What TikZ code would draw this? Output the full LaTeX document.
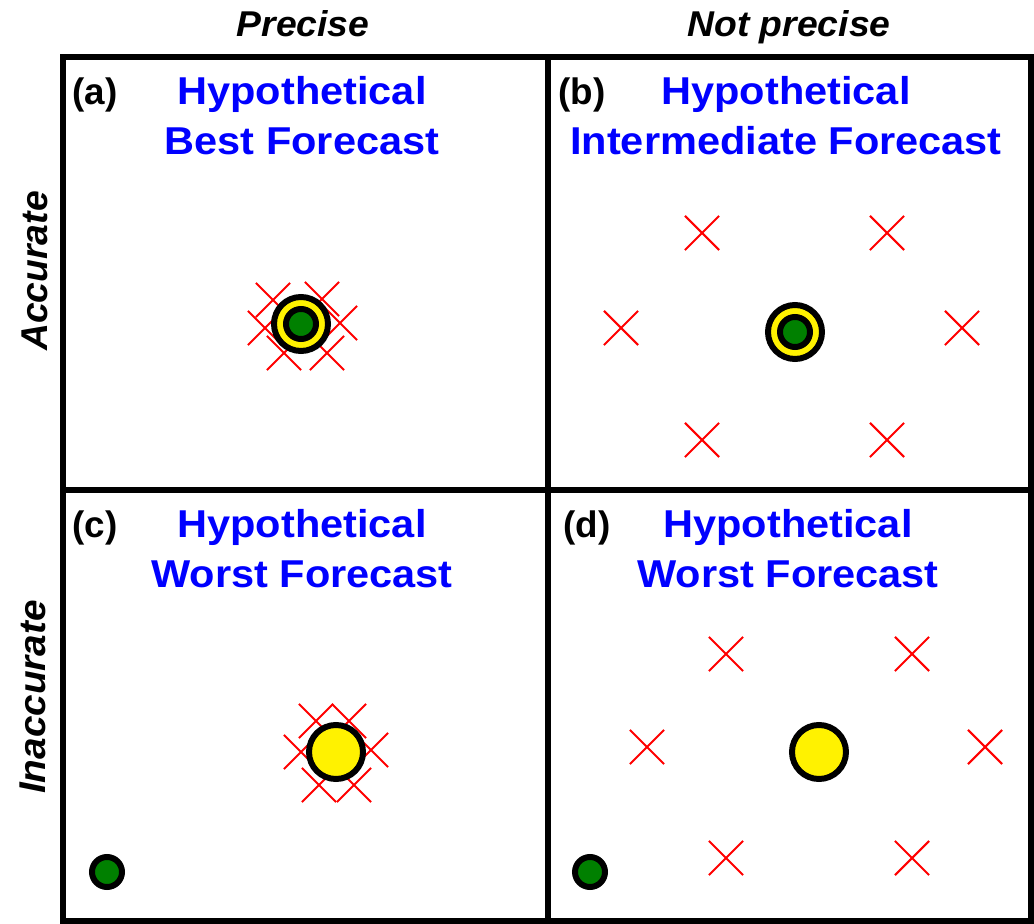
\documentclass[tikz,border=0pt]{standalone}
\usepackage{fontspec}
\setmainfont{Liberation Sans}
\usetikzlibrary{shapes.misc}
\definecolor{obsgreen}{RGB}{0,128,0}

\begin{document}
\begin{tikzpicture}[x=0.025cm, y=-0.025cm,
    paneltitle/.style={text=blue, font=\fontsize{27.6}{33}\selectfont\bfseries, xscale=1.07, anchor=base, inner sep=0pt},
    panellabel/.style={font=\fontsize{26.2}{31}\selectfont\bfseries, anchor=base west, inner sep=0pt},
    axislabel/.style={font=\fontsize{25.5}{30}\selectfont\bfseries\itshape, xscale=1.04, inner sep=0pt},
    fcross/.style={cross out, draw=red, line width=1.5pt, minimum size=0.8cm, inner sep=0pt},
    fcst/.style={circle, draw=black, line width=4.25pt, fill=yellow, minimum size=1.35cm, inner sep=0pt},
    obs/.style={circle, draw=black, line width=4.25pt, fill=obsgreen, minimum size=0.75cm, inner sep=0pt}]
\useasboundingbox (0,0) rectangle (1034,924);

% frame
\draw[line width=4.25pt] (63,57) rectangle (1031,921);
\draw[line width=4.25pt] (548,57) -- (548,921);
\draw[line width=4.25pt] (63,490) -- (1031,490);

% column and row headings
\node[axislabel, anchor=base] (prec) at (303,37) {Precise};
\node[axislabel, anchor=base] (nprec) at (789,37) {Not precise};
\node[axislabel, rotate=90, xscale=1.04] (acc) at (35,271) {Accurate};
\node[axislabel, rotate=90, xscale=1.08] (inacc) at (33,697) {Inaccurate};

% (a)
\node[panellabel] (la) at (72,105) {(a)};
\node[paneltitle] (ta1) at (302,105) {Hypothetical};
\node[paneltitle] (ta2) at (302,155) {Best Forecast};
\node[fcross] (xa1) at (273,300) {}; \node[fcross] (xa2) at (322,299) {};
\node[fcross] (xa3) at (265,328) {}; \node[fcross] (xa4) at (340,323) {};
\node[fcross] (xa5) at (284,353) {}; \node[fcross] (xa6) at (327,353) {};
\node[fcst] (fa) at (301,324) {};
\node[obs] (oa) at (301,324) {};

% (b)
\node[panellabel] (lb) at (558,105) {(b)};
\node[paneltitle] (tb1) at (786,105) {Hypothetical};
\node[paneltitle] (tb2) at (786,155) {Intermediate Forecast};
\node[fcross] (xb1) at (702,233) {}; \node[fcross] (xb2) at (887,233) {};
\node[fcross] (xb3) at (621,328) {}; \node[fcross] (xb4) at (962,328) {};
\node[fcross] (xb5) at (702,440) {}; \node[fcross] (xb6) at (887,440) {};
\node[fcst] (fb) at (795,332) {};
\node[obs] (ob) at (795,332) {};

% (c)
\node[panellabel] (lc) at (72,538) {(c)};
\node[paneltitle] (tc1) at (302,538) {Hypothetical};
\node[paneltitle] (tc2) at (302,588) {Worst Forecast};
\node[fcross] (xc1) at (316,721) {}; \node[fcross] (xc2) at (349,721) {};
\node[fcross] (xc3) at (301,752) {}; \node[fcross] (xc4) at (371,750) {};
\node[fcross] (xc5) at (319,785) {}; \node[fcross] (xc6) at (354,785) {};
\node[fcst] (fc) at (336,752) {};
\node[obs] (oc) at (107,872) {};

% (d)
\node[panellabel] (ld) at (563,538) {(d)};
\node[paneltitle] (td1) at (788,538) {Hypothetical};
\node[paneltitle] (td2) at (788,588) {Worst Forecast};
\node[fcross] (xd1) at (726,654) {}; \node[fcross] (xd2) at (912,654) {};
\node[fcross] (xd3) at (647,747) {}; \node[fcross] (xd4) at (985,747) {};
\node[fcross] (xd5) at (726,858) {}; \node[fcross] (xd6) at (912,858) {};
\node[fcst] (fd) at (819,752) {};
\node[obs] (od) at (590,872) {};

\end{tikzpicture}
\end{document}
